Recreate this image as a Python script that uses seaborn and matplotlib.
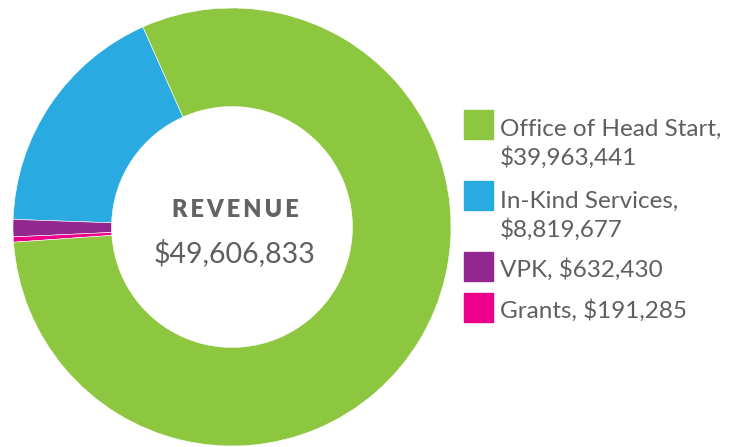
import matplotlib
matplotlib.use("Agg")
import matplotlib.pyplot as plt
import seaborn as sns
from matplotlib.patches import Rectangle

# --- data ---
labels = ["Office of Head Start", "In-Kind Services", "VPK", "Grants"]
values = [39963441, 8819677, 632430, 191285]
legend_line1 = ["Office of Head Start,", "In-Kind Services,", "VPK, $632,430", "Grants, $191,285"]
legend_line2 = ["$39,963,441", "$8,819,677", "", ""]
colors = ["#8dc63f", "#29abe2", "#92278f", "#ec008c"]
center_title = "REVENUE"
total_label = "$49,606,833"

sns.set_theme(style="white")
plt.rcParams["font.family"] = ["Lato", "DejaVu Sans"]
text_color = "#5f5f61"

W, H = 746, 447
fig = plt.figure(figsize=(W / 100, H / 100), dpi=100)

# donut: center (232, 227) px, radius 219 px
cx, cy, r = 232, 227, 219
ax = fig.add_axes([(cx - r) / W, (H - cy - r) / H, 2 * r / W, 2 * r / H])

# draw counterclockwise starting at blue so green sits on the right
order = [1, 2, 3, 0]
ax.pie([values[i] for i in order], colors=[colors[i] for i in order],
       startangle=114, counterclock=True, radius=1,
       wedgeprops=dict(width=0.45, edgecolor="white", linewidth=0.4))
ax.set_xlim(-1, 1)
ax.set_ylim(-1, 1)
ax.axis("off")

# letter-spaced bold title
spaced = "\u2009".join(center_title)
ax.text(0.015, 0.046, spaced, ha="center", va="baseline",
        fontsize=17, fontweight="heavy", color="#636363")
ax.text(0.01, -0.158, total_label, ha="center", va="baseline", fontsize=20.5,
        color=text_color)

# legend drawn manually so squares align with the first line
sq_tops = [110, 181, 252, 293]
baselines = [136, 208, 277, 318]
sq = 29
for i in range(len(labels)):
    fig.patches.append(Rectangle((464 / W, 1 - (sq_tops[i] + sq) / H), sq / W, sq / H,
                                 transform=fig.transFigure, color=colors[i]))
    fig.text(500 / W, 1 - baselines[i] / H, legend_line1[i],
             ha="left", va="baseline", fontsize=17.5, color=text_color)
    if legend_line2[i]:
        fig.text(500 / W, 1 - (baselines[i] + 29) / H, legend_line2[i],
                 ha="left", va="baseline", fontsize=17.5, color=text_color)

fig.savefig("out.png", dpi=100)
